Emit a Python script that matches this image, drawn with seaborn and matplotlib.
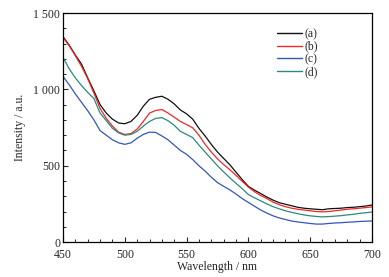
import numpy as np
import pandas as pd
import matplotlib
matplotlib.use("Agg")
import matplotlib.pyplot as plt
import seaborn as sns
from matplotlib.ticker import MultipleLocator, FuncFormatter

# wavelength grid (nm)
wavelength = list(range(450, 701, 5))

# intensities (a.u.)
int_a = [1345, 1290, 1225, 1165, 1075, 990, 900, 845, 805, 780,
         775, 790, 830, 890, 935, 948, 955, 935, 905, 865,
         840, 805, 745, 695, 640, 590, 548, 507, 458, 410,
         365, 340, 318, 295, 275, 258, 248, 238, 228, 222,
         218, 215, 212, 218, 220, 222, 226, 228, 232, 236, 243]
int_b = [1340, 1285, 1220, 1150, 1070, 975, 875, 810, 760, 720,
         705, 710, 740, 790, 845, 862, 868, 845, 818, 790,
         770, 748, 700, 640, 590, 545, 508, 474, 437, 398,
         360, 330, 305, 285, 262, 245, 232, 222, 215, 210,
         205, 200, 198, 200, 205, 210, 215, 218, 222, 226, 230]
int_c = [1085, 1030, 970, 915, 860, 800, 730, 700, 670, 650,
         640, 650, 680, 705, 720, 718, 695, 670, 635, 600,
         575, 540, 500, 465, 425, 390, 365, 342, 315, 285,
         260, 235, 210, 190, 172, 158, 148, 138, 132, 127,
         122, 118, 118, 122, 125, 127, 130, 132, 135, 137, 138]
int_d = [1210, 1135, 1075, 1025, 980, 940, 845, 795, 745, 715,
         700, 705, 725, 760, 790, 810, 815, 795, 765, 725,
         705, 684, 635, 590, 545, 500, 460, 421, 385, 350,
         312, 290, 270, 250, 232, 218, 205, 195, 186, 178,
         172, 168, 165, 167, 170, 173, 178, 182, 188, 192, 197]

labels = ["(a)", "(b)", "(c)", "(d)"]
colors = ["#101010", "#f02828", "#3456b8", "#2a8a7c"]

df = pd.concat([
    pd.DataFrame({"Wavelength": wavelength, "Intensity": vals, "sample": lab})
    for lab, vals in zip(labels, [int_a, int_b, int_c, int_d])
])

sns.set_style("ticks")
plt.rcParams["font.family"] = ["Liberation Serif", "DejaVu Serif"]
fs = 8.5

fig = plt.figure(figsize=(3.89, 2.77), dpi=100)
ax = fig.add_axes([0.162, 0.126, 0.794, 0.827])

sns.lineplot(data=df, x="Wavelength", y="Intensity", hue="sample",
             palette=dict(zip(labels, colors)), linewidth=0.9, ax=ax)

ax.set_xlim(450, 700)
ax.set_ylim(0, 1500)
ax.xaxis.set_major_locator(MultipleLocator(50))
ax.xaxis.set_minor_locator(MultipleLocator(10))
ax.yaxis.set_major_locator(MultipleLocator(500))
ax.yaxis.set_minor_locator(MultipleLocator(100))
ax.yaxis.set_major_formatter(FuncFormatter(
    lambda v, p: f"{int(v):,}".replace(",", " ")))
ax.tick_params(which="both", direction="in", top=False, right=False,
               labelsize=fs)
ax.tick_params(axis="x", pad=5)
ax.tick_params(axis="y", pad=2)
ax.tick_params(which="major", length=3.5, width=0.8)
ax.tick_params(which="minor", length=2, width=0.7)
for s in ax.spines.values():
    s.set_linewidth(0.9)
    s.set_color("black")

ax.set_xlabel("Wavelength / nm", fontsize=fs, labelpad=0)
ax.set_ylabel("Intensity / a.u.", fontsize=fs, labelpad=5)

leg = ax.legend(loc="upper right", bbox_to_anchor=(0.848, 0.965), frameon=False,
                fontsize=fs, handlelength=2.1, handletextpad=0.2,
                labelspacing=0.05, borderpad=0.1)
for h in leg.get_lines():
    h.set_linewidth(1.0)

fig.savefig("out.png", dpi=100)
